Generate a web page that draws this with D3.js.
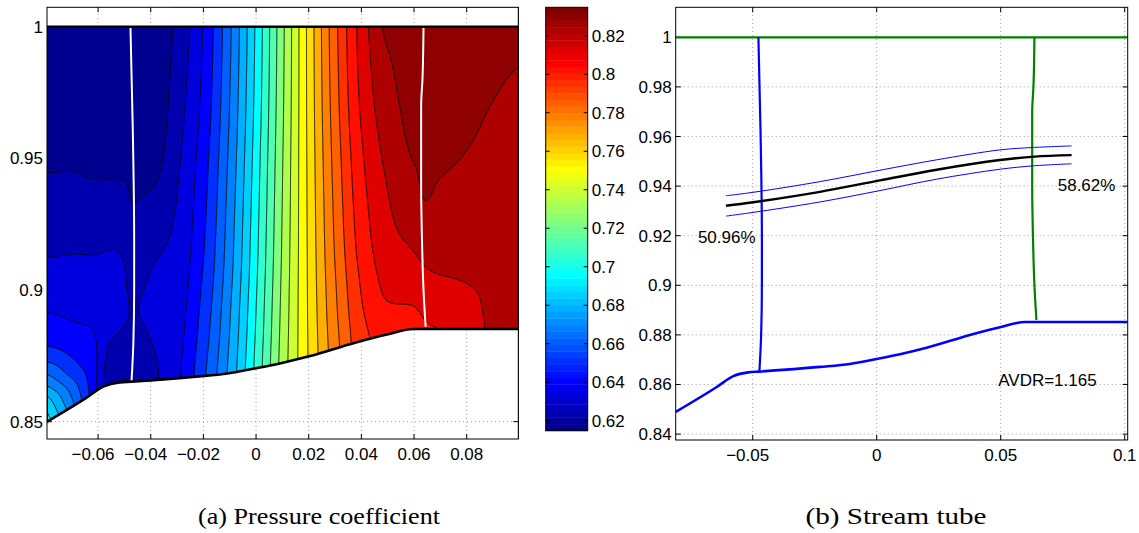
<!DOCTYPE html>
<html>
<head>
<meta charset="utf-8">
<script src="https://cdn.jsdelivr.net/npm/d3@7"></script>
<style>
  body { margin: 0; background: #fff; }
  svg { display: block; }
</style>
</head>
<body>
<svg id="fig" width="1139" height="533"></svg>
<script>
// ---------------- data ----------------
// hub (lower) wall of the passage
const wallX = [-0.081, -0.0645, -0.0578, -0.0518, -0.0473, -0.0229, -0.0108, 0, 0.0094, 0.0201, 0.0376, 0.0497, 0.0598, 0.1012];
const wallY = [0.849, 0.859, 0.8634, 0.8649, 0.8652, 0.8671, 0.8683, 0.8703, 0.8722, 0.8748, 0.8800, 0.8831, 0.8852, 0.8852];

// inlet and outlet measuring planes
const inletX = [-0.0477, -0.0468, -0.0463, -0.0463, -0.0466, -0.0473];
const inletY = [1.0, 0.96, 0.92, 0.90, 0.88, 0.8652];
const outletX = [0.0636, 0.0632, 0.0627, 0.0627, 0.0630, 0.0636, 0.0644];
const outletY = [1.0, 0.98, 0.97, 0.94, 0.92, 0.90, 0.886];

// stream tube: centre line and its two bounding stream lines
const tubeX = [-0.0608, -0.0498, -0.0229, 0.0013, 0.0242, 0.0497, 0.0636, 0.0786];
const tubeMid = [0.9321, 0.9335, 0.9377, 0.9423, 0.9466, 0.9505, 0.9519, 0.9525];
const tubeUpper = [0.9361, 0.9375, 0.9418, 0.9464, 0.9506, 0.9546, 0.9556, 0.9562];
const tubeLower = [0.9279, 0.9294, 0.9336, 0.9382, 0.9428, 0.9468, 0.9482, 0.9490];

// pressure coefficient sampled on columns (x) and normalised height rows (0 = hub, 1 = casing)
const cpX = [-0.0794, -0.07, -0.06, -0.055, -0.05, -0.047, -0.04, -0.03, -0.02, -0.01, 0, 0.01, 0.02, 0.03, 0.04, 0.05, 0.06, 0.0642, 0.07, 0.08, 0.0996];
const cpEta = [0, 0.05, 0.1, 0.2, 0.3, 0.45, 0.6, 0.75, 0.9, 1];
const cpColumns = [
  [0.7000, 0.6910, 0.6748, 0.6494, 0.6400, 0.6311, 0.6250, 0.6195, 0.6170, 0.6165],
  [0.6720, 0.6650, 0.6550, 0.6435, 0.6380, 0.6305, 0.6245, 0.6195, 0.6168, 0.6163],
  [0.6400, 0.6405, 0.6410, 0.6400, 0.6355, 0.6300, 0.6230, 0.6190, 0.6165, 0.6160],
  [0.6245, 0.6270, 0.6310, 0.6370, 0.6355, 0.6295, 0.6228, 0.6185, 0.6162, 0.6157],
  [0.6232, 0.6262, 0.6300, 0.6335, 0.6332, 0.6285, 0.6225, 0.6180, 0.6160, 0.6155],
  [0.6245, 0.6270, 0.6300, 0.6326, 0.6310, 0.6250, 0.6220, 0.6180, 0.6160, 0.6155],
  [0.6300, 0.6310, 0.6325, 0.6340, 0.6330, 0.6275, 0.6215, 0.6180, 0.6165, 0.6165],
  [0.6400, 0.6395, 0.6390, 0.6380, 0.6365, 0.6340, 0.6315, 0.6290, 0.6270, 0.6255],
  [0.6580, 0.6569, 0.6556, 0.6535, 0.6513, 0.6490, 0.6471, 0.6447, 0.6431, 0.6423],
  [0.6802, 0.6793, 0.6783, 0.6766, 0.6747, 0.6729, 0.6711, 0.6692, 0.6679, 0.6672],
  [0.7072, 0.7065, 0.7057, 0.7044, 0.7030, 0.7016, 0.7002, 0.6987, 0.6977, 0.6972],
  [0.7355, 0.7351, 0.7346, 0.7338, 0.7330, 0.7321, 0.7313, 0.7304, 0.7298, 0.7295],
  [0.7595, 0.7596, 0.7598, 0.7601, 0.7603, 0.7606, 0.7609, 0.7612, 0.7614, 0.7615],
  [0.7822, 0.7829, 0.7837, 0.7850, 0.7864, 0.7878, 0.7892, 0.7907, 0.7917, 0.7922],
  [0.8005, 0.8016, 0.8029, 0.8050, 0.8072, 0.8095, 0.8117, 0.8141, 0.8157, 0.8165],
  [0.8080, 0.8100, 0.8125, 0.8160, 0.8188, 0.8215, 0.8245, 0.8275, 0.8302, 0.8325],
  [0.8105, 0.8118, 0.8140, 0.8195, 0.8235, 0.8290, 0.8315, 0.8330, 0.8340, 0.8345],
  [0.8120, 0.8135, 0.8160, 0.8215, 0.8255, 0.8312, 0.8318, 0.8328, 0.8337, 0.8346],
  [0.8130, 0.8150, 0.8175, 0.8228, 0.8265, 0.8300, 0.8320, 0.8332, 0.8340, 0.8348],
  [0.8200, 0.8203, 0.8207, 0.8232, 0.8258, 0.8286, 0.8309, 0.8322, 0.8335, 0.8348],
  [0.8240, 0.8241, 0.8243, 0.8247, 0.8252, 0.8262, 0.8275, 0.8292, 0.8314, 0.8345]
];

// contour levels and colour range
const cpLevels = [0.6238, 0.6328, 0.6418, 0.6508, 0.6598, 0.6688, 0.6778, 0.6868, 0.6958, 0.7048,
                  0.7138, 0.7228, 0.7318, 0.7408, 0.7498, 0.7588, 0.7678, 0.7768, 0.7858, 0.7948,
                  0.8038, 0.8128, 0.8218, 0.8308];
const cpRange = [0.6148, 0.8348];

// ticks
const leftXTicks = [-0.06, -0.04, -0.02, 0, 0.02, 0.04, 0.06, 0.08];
const leftYTicks = [0.85, 0.9, 0.95, 1];
const cbTicks = [0.62, 0.64, 0.66, 0.68, 0.7, 0.72, 0.74, 0.76, 0.78, 0.8, 0.82];
const rightXTicks = [-0.05, 0, 0.05, 0.1];
const rightYTicks = [0.84, 0.86, 0.88, 0.9, 0.92, 0.94, 0.96, 0.98, 1];

// annotations
const inletShare = "50.96%";
const outletShare = "58.62%";
const avdrText = "AVDR=1.165";
const captions = ["(a) Pressure coefficient", "(b) Stream tube"];

// ---------------- helpers ----------------
const FONT = "'Liberation Sans', Arial, Helvetica, sans-serif";
const svg = d3.select("#fig");

function fmt(v) {
  const s = String(+v.toFixed(4));
  return s.replace("-", "\u2212");
}

// MATLAB style 64 entry jet colour map
const jet = (() => {
  const u = [];
  for (let k = 1; k <= 16; k++) u.push(k / 16);
  for (let k = 17; k <= 31; k++) u.push(1);
  for (let k = 32; k <= 47; k++) u.push((48 - k) / 16);
  const at = k => (k >= 1 && k <= 47 ? u[k - 1] : 0);
  const out = [];
  for (let i = 1; i <= 64; i++) {
    out.push(d3.rgb(255 * at(i - 24), 255 * at(i - 8), 255 * at(i + 8)).formatHex());
  }
  return out;
})();
const colorFor = v => {
  const idx = Math.floor((v - cpRange[0]) / (cpRange[1] - cpRange[0]) * 64);
  return jet[Math.max(0, Math.min(63, idx))];
};

// shape preserving cubic interpolation through samples
function pchip(xs, ys) {
  const n = xs.length, h = [], d = [], m = new Array(n);
  for (let i = 0; i < n - 1; i++) { h.push(xs[i + 1] - xs[i]); d.push((ys[i + 1] - ys[i]) / h[i]); }
  m[0] = d[0]; m[n - 1] = d[n - 2];
  for (let i = 1; i < n - 1; i++) {
    if (d[i - 1] * d[i] <= 0) m[i] = 0;
    else {
      const w1 = 2 * h[i] + h[i - 1], w2 = h[i] + 2 * h[i - 1];
      m[i] = (w1 + w2) / (w1 / d[i - 1] + w2 / d[i]);
    }
  }
  return x => {
    let k = d3.bisectRight(xs, x) - 1;
    k = Math.max(0, Math.min(n - 2, k));
    const t = Math.max(0, Math.min(1, (x - xs[k]) / h[k]));
    const t2 = t * t, t3 = t2 * t;
    return (2 * t3 - 3 * t2 + 1) * ys[k] + (t3 - 2 * t2 + t) * h[k] * m[k] +
           (-2 * t3 + 3 * t2) * ys[k + 1] + (t3 - t2) * h[k] * m[k + 1];
  };
}

const wallAt = d3.scaleLinear().domain(wallX).range(wallY);

function drawGrid(g, xs, ys, xScale, yScale) {
  const [x0, x1] = xScale.range(), [y0, y1] = yScale.range();
  g.selectAll(".gx").data(xs).join("line")
    .attr("x1", d => xScale(d)).attr("x2", d => xScale(d))
    .attr("y1", y0).attr("y2", y1)
    .attr("stroke", "#888").attr("stroke-width", 0.8).attr("stroke-dasharray", "1,3");
  g.selectAll(".gy").data(ys).join("line")
    .attr("y1", d => yScale(d)).attr("y2", d => yScale(d))
    .attr("x1", x0).attr("x2", x1)
    .attr("stroke", "#888").attr("stroke-width", 0.8).attr("stroke-dasharray", "1,3");
}

function drawTicks(g, xs, ys, xScale, yScale, len) {
  const [x0, x1] = xScale.range(), [yb, yt] = yScale.range();
  xs.forEach(v => {
    const x = xScale(v);
    g.append("line").attr("x1", x).attr("x2", x).attr("y1", yb).attr("y2", yb - len).attr("stroke", "#000");
    g.append("line").attr("x1", x).attr("x2", x).attr("y1", yt).attr("y2", yt + len).attr("stroke", "#000");
  });
  ys.forEach(v => {
    const y = yScale(v);
    g.append("line").attr("y1", y).attr("y2", y).attr("x1", x0).attr("x2", x0 + len).attr("stroke", "#000");
    g.append("line").attr("y1", y).attr("y2", y).attr("x1", x1).attr("x2", x1 - len).attr("stroke", "#000");
  });
}

function drawLabels(g, xs, ys, xScale, yScale) {
  const yb = yScale.range()[0], x0 = xScale.range()[0];
  g.selectAll(".xl").data(xs).join("text")
    .attr("x", d => xScale(d)).attr("y", yb + 21)
    .attr("dx", d => (d < 0 ? -5 : 0))
    .attr("text-anchor", "middle")
    .attr("font-family", FONT).attr("font-size", 17)
    .text(fmt);
  g.selectAll(".yl").data(ys).join("text")
    .attr("x", x0 - 4).attr("y", d => yScale(d) + 6)
    .attr("text-anchor", "end")
    .attr("font-family", FONT).attr("font-size", 17)
    .text(fmt);
}

// ---------------- (a) pressure coefficient ----------------
const xL = d3.scaleLinear().domain([-0.0794, 0.0996]).range([47, 518.3]);
const yL = d3.scaleLinear().domain([0.8434, 1.0074]).range([439, 7.3]);

const defs = svg.append("defs");
const [lx0, lx1] = xL.domain();
const wallCurveL = d3.line().x(d => xL(d[0])).y(d => yL(d[1])).curve(d3.curveMonotoneX);
const fluidTop = [[lx0, 1], [lx1, 1]];
defs.append("clipPath").attr("id", "fluidL").append("path")
  .attr("d", "M" + xL(lx0) + "," + yL(1) + "L" + xL(lx1) + "," + yL(1) +
             "L" + xL(0.103) + "," + yL(1) + "L" + xL(0.103) + "," + yL(0.82) +
             "L" + xL(-0.082) + "," + yL(0.82) + "Z");
defs.append("clipPath").attr("id", "boxL").append("rect")
  .attr("x", 47).attr("y", 7.3).attr("width", 518.3 - 47).attr("height", 439 - 7.3);

const gA = svg.append("g");
drawGrid(gA, leftXTicks, leftYTicks, xL, yL);
drawTicks(gA, leftXTicks, leftYTicks, xL, yL, 5);

// sample the field on a pixel lattice and contour it
const GX0 = 47, GY0 = 7, GW = 472, GH = 432;
const rowSplines = cpEta.map((_, r) => pchip(cpX, cpColumns.map(c => c[r])));
const field = new Float64Array(GW * GH);
for (let i = 0; i < GW; i++) {
  const x = xL.invert(GX0 + i + 0.5);
  const w = wallAt(x);
  const colSpline = pchip(cpEta, rowSplines.map(s => s(x)));
  for (let j = 0; j < GH; j++) {
    const y = yL.invert(GY0 + j + 0.5);
    const eta = Math.max(0, Math.min(1, (y - w) / (1 - w)));
    field[i + j * GW] = colSpline(eta);
  }
}
const bands = d3.contours().size([GW, GH]).thresholds(cpLevels)(field);
const geo = d3.geoPath();

// everything above the casing is masked; the hub side is masked by a white area drawn over it
const gF = gA.append("g").attr("clip-path", "url(#boxL)");
const gFluid = gF.append("g");
gFluid.append("rect").attr("x", 40).attr("y", yL(1)).attr("width", 500).attr("height", 450)
  .attr("fill", colorFor(cpRange[0]));
const gC = gFluid.append("g").attr("transform", `translate(${GX0},${GY0})`);
gC.selectAll("path.band").data(bands).join("path").attr("class", "band")
  .attr("d", geo).attr("fill", d => colorFor(d.value)).attr("stroke", d => colorFor(d.value)).attr("stroke-width", 0.3);
gC.selectAll("path.iso").data(bands).join("path").attr("class", "iso")
  .attr("d", geo).attr("fill", "none").attr("stroke", "#000").attr("stroke-width", 0.9);
// mask above the casing
gF.append("rect").attr("x", 40).attr("y", 0).attr("width", 500).attr("height", yL(1))
  .attr("fill", "#fff");

// measuring planes
const planeL = d3.line().x(d => xL(d[0])).y(d => yL(d[1])).curve(d3.curveMonotoneY);
[[inletX, inletY], [outletX, outletY]].forEach(([xs, ys]) => {
  gF.append("path").attr("d", planeL(xs.map((x, i) => [x, ys[i]])))
    .attr("fill", "none").attr("stroke", "#fff").attr("stroke-width", 2);
});

// area under the hub (solid), grid shows through it
const hubArea = d3.area().x(d => xL(d[0])).y0(yL(0.8434)).y1(d => yL(d[1])).curve(d3.curveMonotoneX);
gF.append("path").attr("d", hubArea(wallX.map((x, i) => [x, wallY[i]]))).attr("fill", "#fff");
// redraw grid and ticks inside the hub area so they stay visible there
const gHub = gF.append("g");
drawGrid(gHub, leftXTicks, leftYTicks, xL, yL);
defs.append("clipPath").attr("id", "hubL").append("path")
  .attr("d", hubArea(wallX.map((x, i) => [x, wallY[i]])));
gHub.attr("clip-path", "url(#hubL)");
const gTop = gF.append("g");
drawGrid(gTop, leftXTicks, leftYTicks, xL, yL);
defs.append("clipPath").attr("id", "topL").append("rect")
  .attr("x", 40).attr("y", 0).attr("width", 500).attr("height", yL(1));
gTop.attr("clip-path", "url(#topL)");
drawTicks(gF, leftXTicks, [0.85], xL, yL, 5);

// walls
gF.append("path").attr("d", wallCurveL(wallX.map((x, i) => [x, wallY[i]])))
  .attr("fill", "none").attr("stroke", "#000").attr("stroke-width", 2.6).attr("stroke-linejoin", "round");
gF.append("line").attr("x1", xL(lx0)).attr("x2", xL(lx1)).attr("y1", yL(1)).attr("y2", yL(1))
  .attr("stroke", "#000").attr("stroke-width", 2.6);

gA.append("rect").attr("x", 47).attr("y", 7.3).attr("width", 518.3 - 47).attr("height", 439 - 7.3)
  .attr("fill", "none").attr("stroke", "#000").attr("stroke-width", 1);
drawLabels(gA, leftXTicks, leftYTicks, xL, yL);

// colour bar
const cb = d3.scaleLinear().domain(cpRange).range([430.7, 7.3]);
const gB = svg.append("g");
const step = (cpRange[1] - cpRange[0]) / 64;
gB.selectAll("rect.cb").data(d3.range(64)).join("rect").attr("class", "cb")
  .attr("x", 545.7).attr("width", 42)
  .attr("y", i => cb(cpRange[0] + (i + 1) * step))
  .attr("height", i => cb(cpRange[0] + i * step) - cb(cpRange[0] + (i + 1) * step) + 0.4)
  .attr("fill", i => jet[i]);
gB.append("rect").attr("x", 545.7).attr("y", 7.3).attr("width", 42).attr("height", 430.7 - 7.3)
  .attr("fill", "none").attr("stroke", "#000").attr("stroke-width", 1);
cbTicks.forEach(v => {
  gB.append("line").attr("x1", 545.7).attr("x2", 549.7).attr("y1", cb(v)).attr("y2", cb(v)).attr("stroke", "#000");
  gB.append("line").attr("x1", 587.7).attr("x2", 583.7).attr("y1", cb(v)).attr("y2", cb(v)).attr("stroke", "#000");
});
gB.selectAll("text").data(cbTicks).join("text")
  .attr("x", 591.7).attr("y", d => cb(d) + 6)
  .attr("font-family", FONT).attr("font-size", 17).text(fmt);

// ---------------- (b) stream tube ----------------
const xR = d3.scaleLinear().domain([-0.08105, 0.10121]).range([675.7, 1127.7]);
const yR = d3.scaleLinear().domain([0.83762, 1.0121]).range([440, 7.3]);
defs.append("clipPath").attr("id", "boxR").append("rect")
  .attr("x", 675.7).attr("y", 7.3).attr("width", 1127.7 - 675.7).attr("height", 440 - 7.3);

const gR = svg.append("g");
drawGrid(gR, rightXTicks, rightYTicks, xR, yR);
drawTicks(gR, rightXTicks, rightYTicks, xR, yR, 5);

const lineRw = d3.line().x(d => xR(d[0])).y(d => yR(d[1])).curve(d3.curveMonotoneX);
const lineRs = d3.line().x(d => xR(d[0])).y(d => yR(d[1])).curve(d3.curveCatmullRom);
const planeR = d3.line().x(d => xR(d[0])).y(d => yR(d[1])).curve(d3.curveMonotoneY);
const gP = gR.append("g").attr("clip-path", "url(#boxR)");

gP.append("path").attr("d", lineRw(wallX.map((x, i) => [x, wallY[i]])))
  .attr("fill", "none").attr("stroke", "#0000ff").attr("stroke-width", 2.6).attr("stroke-linejoin", "round");
gP.append("line").attr("x1", xR.range()[0]).attr("x2", xR.range()[1]).attr("y1", yR(1)).attr("y2", yR(1))
  .attr("stroke", "#008000").attr("stroke-width", 2.2);
gP.append("path").attr("d", planeR(inletX.map((x, i) => [x, inletY[i]])))
  .attr("fill", "none").attr("stroke", "#0000ff").attr("stroke-width", 2.2);
gP.append("path").attr("d", planeR(outletX.map((x, i) => [x, outletY[i]])))
  .attr("fill", "none").attr("stroke", "#008000").attr("stroke-width", 2.2);
[tubeUpper, tubeLower].forEach(ys => {
  gP.append("path").attr("d", lineRs(tubeX.map((x, i) => [x, ys[i]])))
    .attr("fill", "none").attr("stroke", "#0000ff").attr("stroke-width", 1);
});
gP.append("path").attr("d", lineRs(tubeX.map((x, i) => [x, tubeMid[i]])))
  .attr("fill", "none").attr("stroke", "#000").attr("stroke-width", 2.4);

gR.append("rect").attr("x", 675.7).attr("y", 7.3).attr("width", 1127.7 - 675.7).attr("height", 440 - 7.3)
  .attr("fill", "none").attr("stroke", "#000").attr("stroke-width", 1);
drawLabels(gR, rightXTicks, rightYTicks, xR, yR);

const ann = [[inletShare, -0.0721, 0.9171], [outletShare, 0.0730, 0.9380], [avdrText, 0.0490, 0.8594]];
gR.selectAll("text.ann").data(ann).join("text").attr("class", "ann")
  .attr("x", d => xR(d[1])).attr("y", d => yR(d[2]))
  .attr("font-family", FONT).attr("font-size", 17).text(d => d[0]);

// ---------------- captions ----------------
svg.selectAll("text.cap").data(captions).join("text").attr("class", "cap")
  .attr("x", (d, i) => (i === 0 ? 319 : 896)).attr("y", 524)
  .attr("text-anchor", "middle")
  .attr("font-family", "'Liberation Serif', 'Times New Roman', serif").attr("font-size", 23)
  .attr("textLength", (d, i) => (i === 0 ? 242 : 181)).attr("lengthAdjust", "spacingAndGlyphs")
  .text(d => d);
</script>
</body>
</html>
